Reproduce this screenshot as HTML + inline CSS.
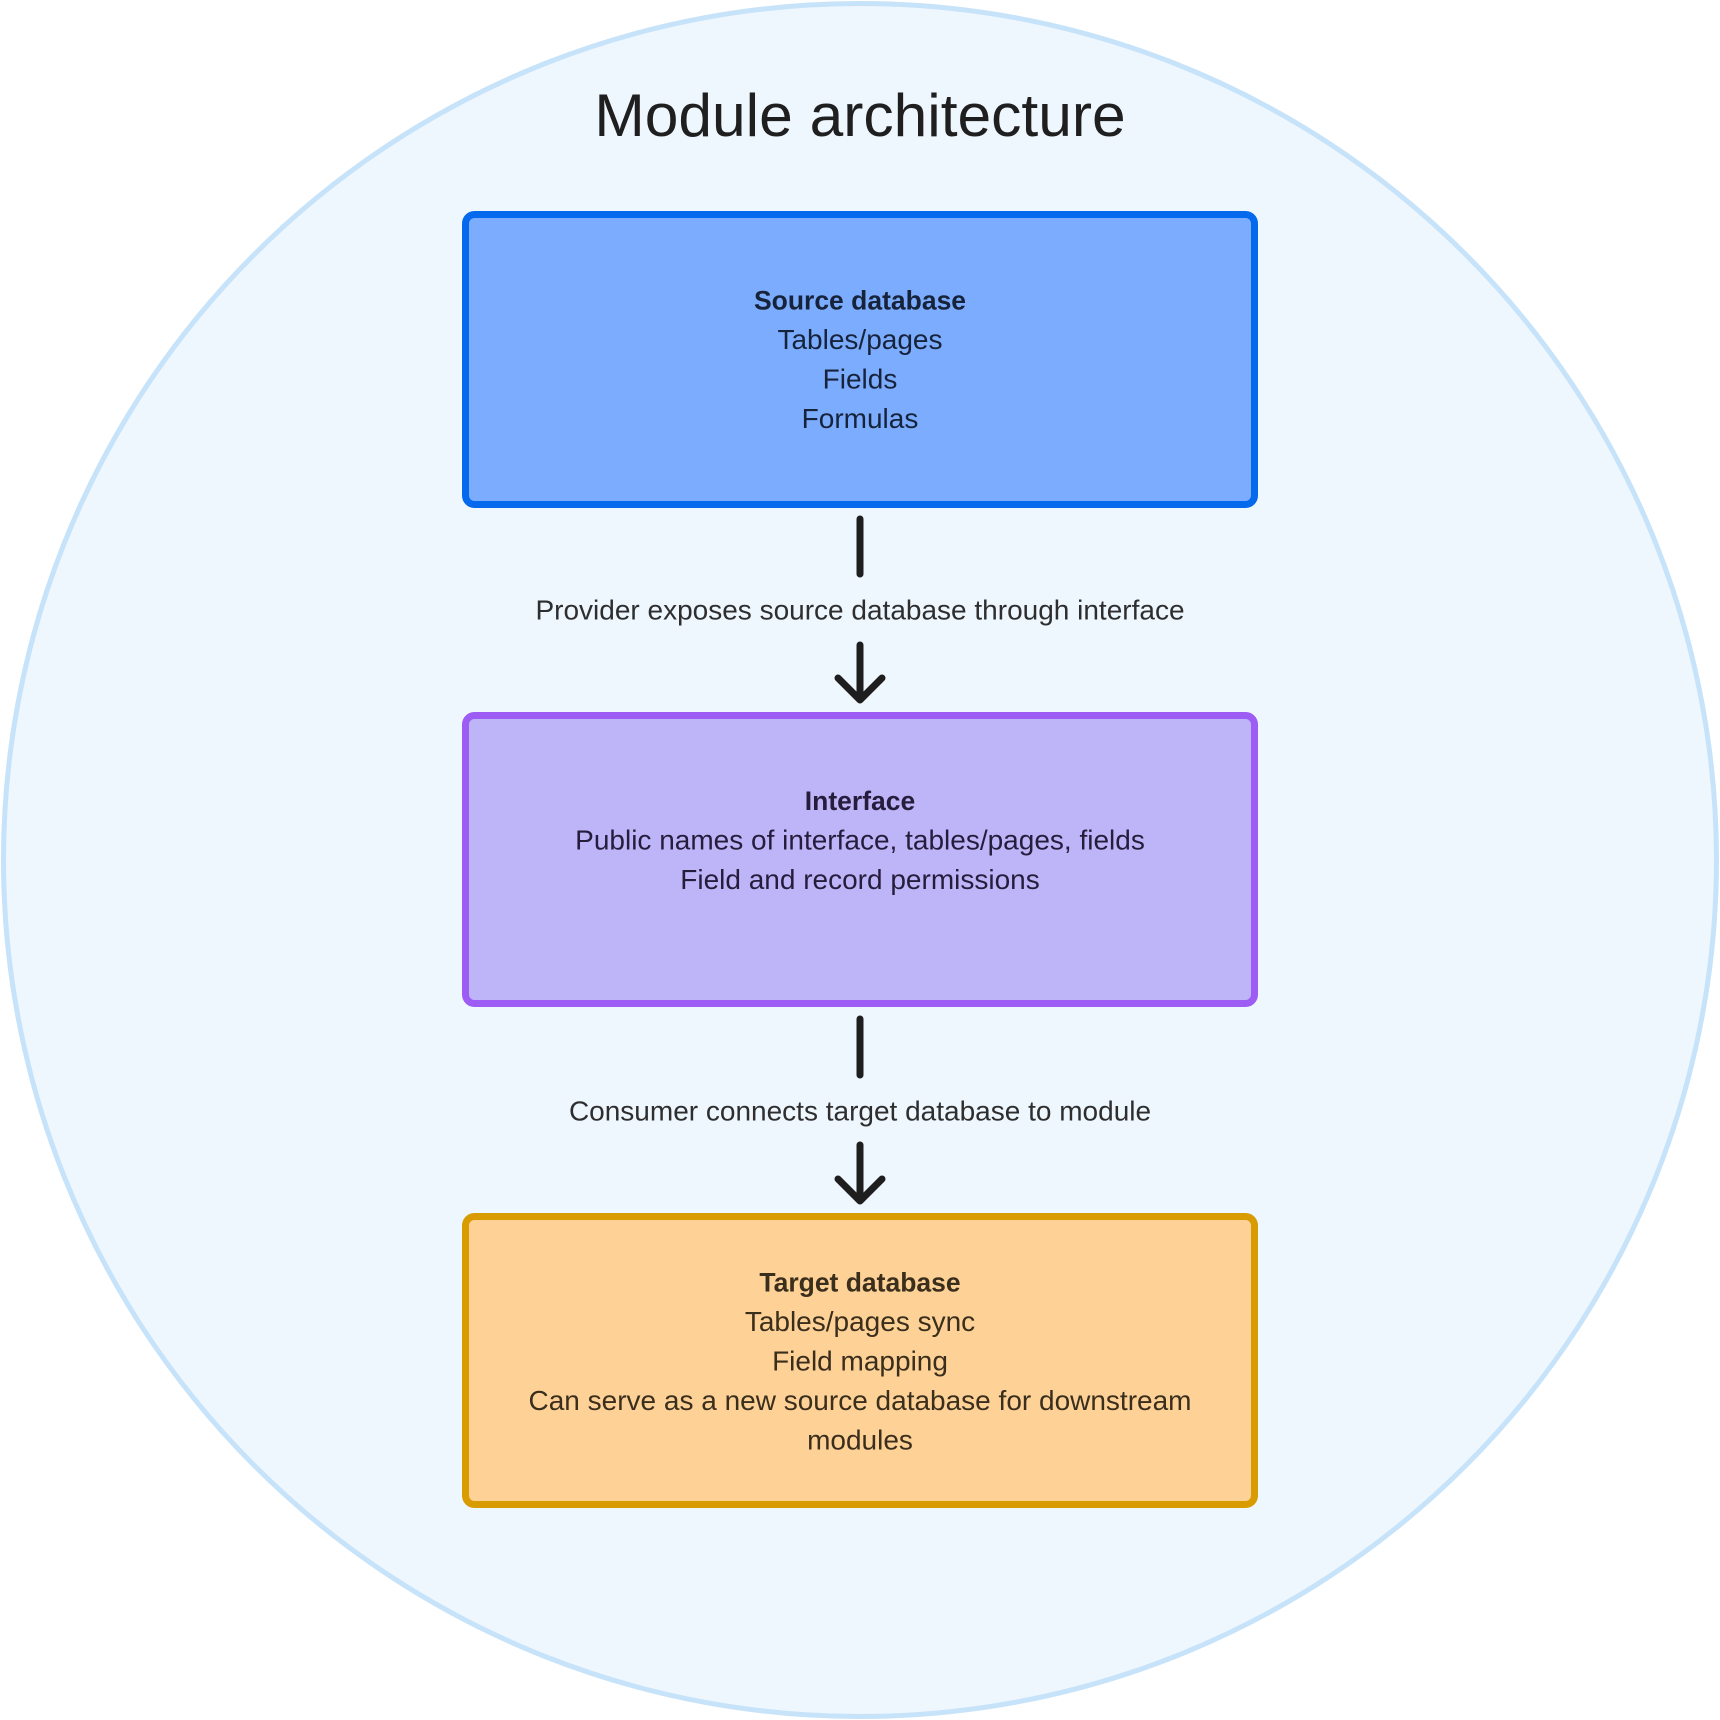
<!DOCTYPE html>
<html>
<head>
<meta charset="utf-8">
<style>
  html,body{margin:0;padding:0;background:#ffffff;}
  svg{display:block;}
  text{font-family:"Liberation Sans", Arial, sans-serif;}
</style>
</head>
<body>
<svg width="1720" height="1720" viewBox="0 0 1720 1720" xmlns="http://www.w3.org/2000/svg">
  <rect x="0" y="0" width="1720" height="1720" fill="#ffffff"/>
  <circle cx="860" cy="860" r="856.5" fill="#EEF6FE" stroke="#C6E3FA" stroke-width="5"/>

  <text x="860" y="136" text-anchor="middle" font-size="60.5" fill="#1f1f1f">Module architecture</text>

  <!-- Box 1 -->
  <rect x="465.5" y="214.5" width="789" height="290" rx="9" ry="9" fill="#7BACFE" stroke="#0569EE" stroke-width="7"/>
  <g text-anchor="middle" font-size="28" fill="#17233a">
    <text x="860" y="309.5" font-weight="bold" font-size="26.5">Source database</text>
    <text x="860" y="349">Tables/pages</text>
    <text x="860" y="388.5">Fields</text>
    <text x="860" y="428">Formulas</text>
  </g>

  <!-- Connector 1 -->
  <line x1="860" y1="519" x2="860" y2="574" stroke="#1e1e1e" stroke-width="7" stroke-linecap="round"/>
  <text x="860" y="619.5" text-anchor="middle" font-size="28" fill="#2e2e2e">Provider exposes source database through interface</text>
  <g stroke="#1e1e1e" stroke-width="7" stroke-linecap="round" stroke-linejoin="round" fill="none">
    <line x1="860" y1="645" x2="860" y2="699"/>
    <polyline points="838,678 860,700 882,678"/>
  </g>

  <!-- Box 2 -->
  <rect x="465.5" y="715.5" width="789" height="288" rx="9" ry="9" fill="#BEB5F8" stroke="#9D5CF4" stroke-width="7"/>
  <g text-anchor="middle" font-size="28" fill="#261d3d">
    <text x="860" y="810" font-weight="bold" font-size="26.5">Interface</text>
    <text x="860" y="849.5">Public names of interface, tables/pages, fields</text>
    <text x="860" y="889">Field and record permissions</text>
  </g>

  <!-- Connector 2 -->
  <line x1="860" y1="1019" x2="860" y2="1075" stroke="#1e1e1e" stroke-width="7" stroke-linecap="round"/>
  <text x="860" y="1120.5" text-anchor="middle" font-size="28" fill="#2e2e2e">Consumer connects target database to module</text>
  <g stroke="#1e1e1e" stroke-width="7" stroke-linecap="round" stroke-linejoin="round" fill="none">
    <line x1="860" y1="1145" x2="860" y2="1200"/>
    <polyline points="838,1179 860,1201 882,1179"/>
  </g>

  <!-- Box 3 -->
  <rect x="465.5" y="1216.5" width="789" height="288" rx="9" ry="9" fill="#FED196" stroke="#D89B00" stroke-width="7"/>
  <g text-anchor="middle" font-size="28" fill="#3a2e1c">
    <text x="860" y="1291.5" font-weight="bold" font-size="26.5">Target database</text>
    <text x="860" y="1331">Tables/pages sync</text>
    <text x="860" y="1370.5">Field mapping</text>
    <text x="860" y="1410">Can serve as a new source database for downstream</text>
    <text x="860" y="1449.5">modules</text>
  </g>
</svg>
</body>
</html>
